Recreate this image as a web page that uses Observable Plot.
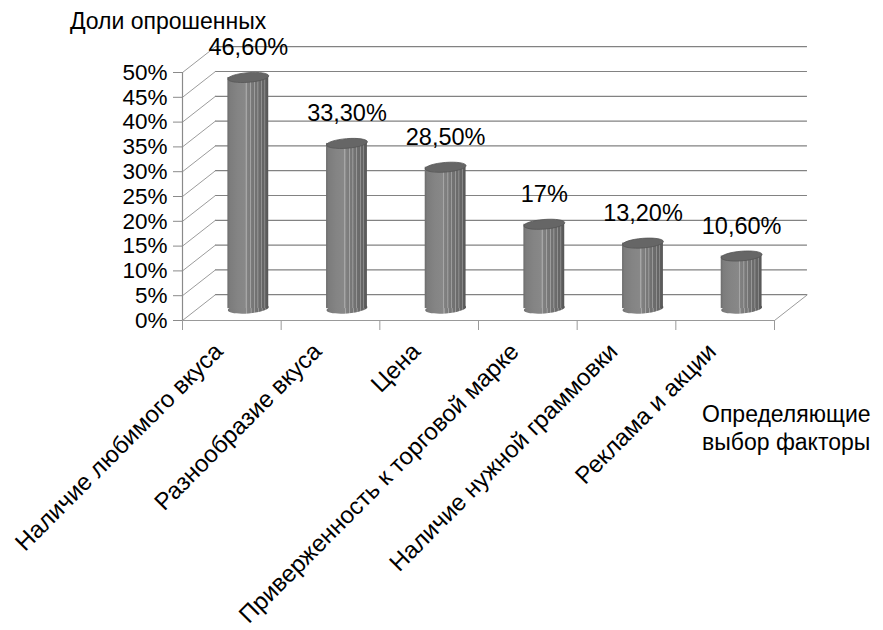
<!DOCTYPE html>
<html>
<head>
<meta charset="utf-8">
<script src="https://cdn.jsdelivr.net/npm/d3@7"></script>
<script src="https://cdn.jsdelivr.net/npm/@observablehq/plot@0.6"></script>
<style>
  html, body { margin: 0; padding: 0; background: #fff; }
  #wrap { position: relative; width: 883px; height: 630px; font-family: "Liberation Sans", Arial, sans-serif; }
  .ttl { position: absolute; font-size: 23px; line-height: 28px; color: #000; white-space: nowrap; }
</style>
</head>
<body>
<div id="wrap">
  <div class="ttl" id="ytitle" style="left:70px; top:7px;">Доли опрошенных</div>
  <div class="ttl" id="xtitle" style="left:702px; top:400px;">Определяющие<br>выбор факторы</div>
</div>
<script>
// ---- data ----
const categories = [
  "Наличие любимого вкуса",
  "Разнообразие вкуса",
  "Цена",
  "Приверженность к торговой марке",
  "Наличие нужной граммовки",
  "Реклама и акции"
];
const values = [46.6, 33.3, 28.5, 17, 13.2, 10.6];
const valueLabels = ["46,60%", "33,30%", "28,50%", "17%", "13,20%", "10,60%"];
const yTicks = [0, 5, 10, 15, 20, 25, 30, 35, 40, 45, 50];
const yTickLabels = ["0%", "5%", "10%", "15%", "20%", "25%", "30%", "35%", "40%", "45%", "50%"];

// ---- 3D look (style constants) ----
const depthX = 0.334;   // back-wall shift, in category units
const depthY = 5.2;     // back-wall shift, in % units
const midX = depthX / 2 + 0.5;
const midY = 2.4;
const halfW = 0.207;

// rotated ellipse symbol for cylinder caps
function ellipseSymbol(rx, ry, a) {
  const k = 0.5523;
  const c = Math.cos(a), s = Math.sin(a);
  const P = (x, y) => [x * c - y * s, x * s + y * c];
  return {
    draw(ctx) {
      const pts = [
        [rx, 0],
        [rx, k * ry], [k * rx, ry], [0, ry],
        [-k * rx, ry], [-rx, k * ry], [-rx, 0],
        [-rx, -k * ry], [-k * rx, -ry], [0, -ry],
        [k * rx, -ry], [rx, -k * ry], [rx, 0]
      ].map(([x, y]) => P(x, y));
      ctx.moveTo(...pts[0]);
      for (let i = 1; i < pts.length; i += 3) {
        ctx.bezierCurveTo(...pts[i], ...pts[i + 1], ...pts[i + 2]);
      }
      ctx.closePath();
    }
  };
}
const cap = ellipseSymbol(20.5, 4.8, -0.08);

const idx = values.map((d, i) => i);

const chart = Plot.plot({
  width: 883,
  height: 630,
  marginLeft: 182,
  marginRight: 109,
  marginTop: 72,
  marginBottom: 310,
  style: { fontFamily: "Liberation Sans, Arial, sans-serif", color: "#000", background: "transparent" },
  x: { type: "linear", domain: [0, categories.length] },
  y: { type: "linear", domain: [0, 50] },
  marks: [
    // back wall gridlines
    Plot.ruleY(yTicks, { y: d => d + depthY, x1: depthX, x2: categories.length + depthX, stroke: "#828282", strokeWidth: 1.2 }),
    // left wall diagonals
    Plot.link(yTicks, { x1: 0, y1: d => d, x2: depthX, y2: d => d + depthY, stroke: "#9c9c9c", strokeWidth: 1 }),
    // floor right diagonal
    Plot.link([0], { x1: categories.length, y1: d => d, x2: categories.length + depthX, y2: d => d + depthY, stroke: "#9c9c9c", strokeWidth: 1 }),
    // floor front edge
    Plot.ruleY([0], { x1: 0, x2: categories.length, stroke: "#999999", strokeWidth: 1 }),
    // y axis line
    Plot.ruleX([0], { y1: 0, y2: 50, stroke: "#8a8a8a", strokeWidth: 1.2 }),
    Plot.axisY({ ticks: yTicks, tickFormat: (d) => yTickLabels[yTicks.indexOf(d)], tickSize: 9, tickPadding: 6, fontSize: 22.5, stroke: "#8a8a8a", label: null }),
    Plot.axisX({ ticks: d3.range(0, categories.length + 1), tickSize: 10, tickFormat: () => "", stroke: "#9a9a9a", label: null }),
    // cylinders: bottom cap, body, top cap
    Plot.dot(idx, { x: i => i + midX, y: midY, symbol: cap, r: 5, fill: "url(#cylGrad)", stroke: "none" }),
    Plot.rectY(idx, { x1: i => i + midX - halfW, x2: i => i + midX + halfW, y1: midY, y2: i => values[i] + midY, fill: "url(#cylGrad)" }),
    Plot.dot(idx, { x: i => i + midX, y: i => values[i] + midY, symbol: cap, r: 5, fill: "#666666", stroke: "#555555", strokeWidth: 0.8 }),
    // value labels
    Plot.text(idx, { x: i => i + midX, y: i => values[i] + midY, text: i => valueLabels[i], dy: -30, fontSize: 23.5, fill: "#000" }),
    // category labels
    Plot.text(idx, { x: i => i + 0.5, y: 0, text: i => categories[i], rotate: -45, textAnchor: "end", dx: -13, dy: 27, fontSize: 24, fill: "#000" })
  ]
});

// gradient definition for cylinder bodies
const ns = "http://www.w3.org/2000/svg";
const defs = document.createElementNS(ns, "defs");
const grad = document.createElementNS(ns, "linearGradient");
grad.setAttribute("id", "cylGrad");
grad.setAttribute("x1", "0"); grad.setAttribute("x2", "1");
grad.setAttribute("y1", "0"); grad.setAttribute("y2", "0");
const stops = [
  [0.00, "#6c6c6c"], [0.06, "#7c7c7c"], [0.25, "#848484"], [0.44, "#888888"],
  [0.45, "#a6a6a6"], [0.47, "#a6a6a6"], [0.48, "#828282"],
  [0.55, "#7c7c7c"], [0.56, "#a2a2a2"], [0.575, "#a2a2a2"], [0.585, "#7a7a7a"],
  [0.64, "#767676"], [0.65, "#9c9c9c"], [0.665, "#9c9c9c"], [0.675, "#737373"],
  [0.73, "#707070"], [0.74, "#979797"], [0.755, "#979797"], [0.765, "#6d6d6d"],
  [0.82, "#6a6a6a"], [0.83, "#909090"], [0.845, "#909090"], [0.855, "#666666"],
  [0.90, "#646464"], [0.91, "#888888"], [0.925, "#888888"], [0.935, "#5f5f5f"],
  [1.00, "#565656"]
];
for (const [o, c] of stops) {
  const st = document.createElementNS(ns, "stop");
  st.setAttribute("offset", o);
  st.setAttribute("stop-color", c);
  grad.appendChild(st);
}
defs.appendChild(grad);
chart.insertBefore(defs, chart.firstChild);
chart.style.position = "absolute";
chart.style.left = "0";
chart.style.top = "0";
document.getElementById("wrap").insertBefore(chart, document.getElementById("wrap").firstChild);
</script>
</body>
</html>
